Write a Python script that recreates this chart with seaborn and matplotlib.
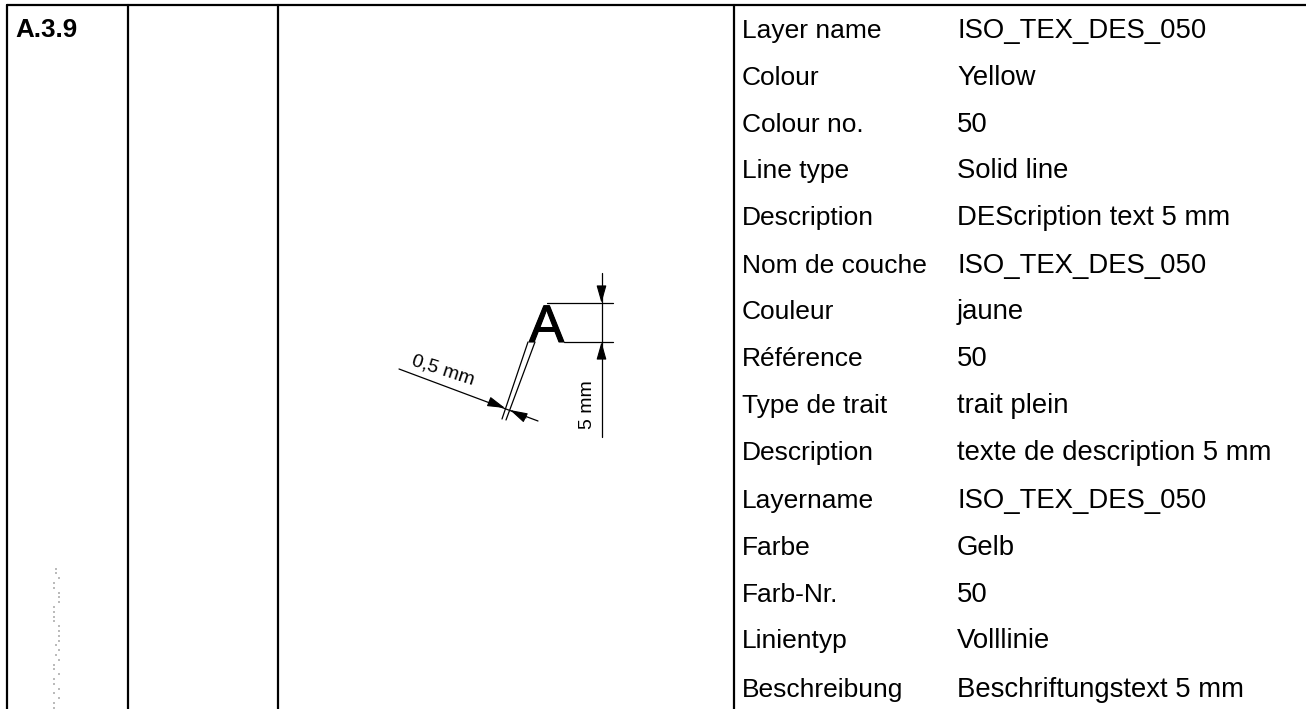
import matplotlib
matplotlib.use('Agg')
from matplotlib import pyplot as plt
from matplotlib import patheffects
import pandas as pd
import seaborn as sns

sns.set_style('white')
plt.rcParams['font.family'] = ['Liberation Sans', 'DejaVu Sans']
plt.rcParams['text.color'] = 'black'

# %%
# table content
section = 'A.3.9'
row_labels = ['Layer name', 'Colour', 'Colour no.', 'Line type', 'Description',
              'Nom de couche', 'Couleur', 'Référence', 'Type de trait', 'Description',
              'Layername', 'Farbe', 'Farb-Nr.', 'Linientyp', 'Beschreibung']
row_values = ['ISO_TEX_DES_050', 'Yellow', '50', 'Solid line', 'DEScription text 5 mm',
              'ISO_TEX_DES_050', 'jaune', '50', 'trait plein', 'texte de description 5 mm',
              'ISO_TEX_DES_050', 'Gelb', '50', 'Volllinie', 'Beschriftungstext 5 mm']
row_y = [38, 85, 132, 178, 225, 273, 319, 366, 413, 460, 508, 555, 602, 648, 697]

# speckle left over at the lower left
dots_x = [56, 56, 59, 54, 54, 59, 59, 59, 54, 54, 54, 54, 59, 59, 59, 59, 56, 59, 56, 59,
          54, 54, 59, 54, 54, 59, 54, 59, 54, 54]
dots_y = [569, 573, 578, 583, 588, 593, 597, 602, 607, 612, 617, 621, 626, 631, 636, 641,
          645, 650, 655, 660, 665, 669, 674, 679, 684, 689, 693, 698, 703, 708]

# %%
fig, ax = plt.subplots(figsize=(13.06, 7.09), dpi=100)
ax.set_position([0, 0, 1, 1])
ax.set_xlim(0, 1306)
ax.set_ylim(709, 0)
ax.axis('off')


def seg(x0, y0, x1, y1, lw=0.9):
    sns.lineplot(x=[x0, x1], y=[y0, y1], color='black', lw=lw, ax=ax,
                 estimator=None, sort=False, legend=False)


def head(tip, tail):
    ax.annotate('', xy=tip, xytext=tail,
                arrowprops=dict(arrowstyle='-|>,head_length=0.6,head_width=0.17',
                                mutation_scale=18, color='black', lw=0.8,
                                shrinkA=0, shrinkB=0))


# table frame
for x in [7, 128, 278, 734]:
    seg(x, 5, x, 709, lw=1.6)
seg(7, 5, 1306, 5, lw=1.6)

ax.text(15.5, 37, section, fontsize=18.7, fontweight='bold', va='baseline')
for y, label, value in zip(row_y, row_labels, row_values):
    ax.text(742, y, label, fontsize=19, va='baseline')
    ax.text(957, y, value, fontsize=19.8, va='baseline')

# speckle
sns.scatterplot(data=pd.DataFrame({'x': dots_x, 'y': dots_y}), x='x', y='y', s=2,
                color='#bbbbbb', marker='s', linewidth=0, ax=ax, legend=False)

# the letter and its dimensions
letter = ax.text(546.5, 342, 'A', fontsize=38, ha='center', va='baseline')
letter.set_path_effects([patheffects.withStroke(linewidth=0.8, foreground='black')])
seg(547, 303, 613, 303)
seg(564, 342, 613, 342)
seg(601.5, 273, 601.5, 437)
seg(528, 342, 502, 419)
seg(535, 342, 506, 420)
seg(399, 369, 538, 421)
head((601.5, 303), (601.5, 289))
head((601.5, 342), (601.5, 357))
head((505, 408), (490, 402))
head((510, 410), (526, 418))
ax.text(443, 370, '0,5 mm', fontsize=14, rotation=-18, ha='center', va='center')
ax.text(587, 405, '5 mm', fontsize=14, rotation=90, ha='center', va='center')

fig.savefig('out.png', dpi=100)
